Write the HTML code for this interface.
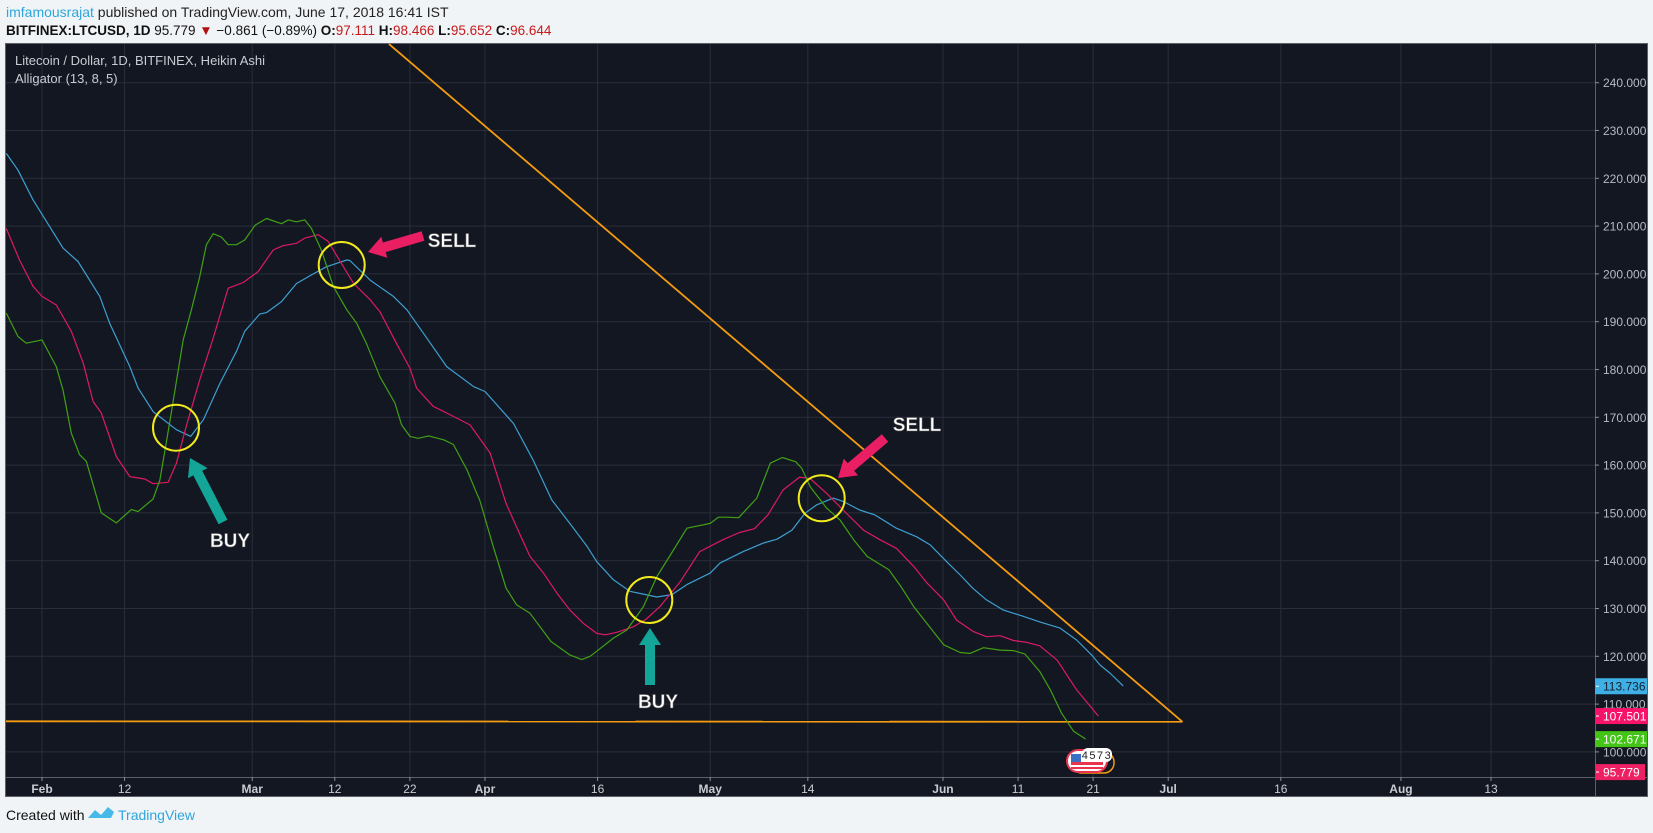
<!DOCTYPE html>
<html><head><meta charset="utf-8"><style>
html,body{margin:0;padding:0;background:#f1f4f7;}
svg{display:block;}
text{font-family:"Liberation Sans",sans-serif;}
</style></head><body>
<svg id="chart" width="1653" height="833" viewBox="0 0 1653 833" xmlns="http://www.w3.org/2000/svg">
<rect x="0" y="0" width="1653" height="833" fill="#f1f4f7"/>
<text x="6" y="17" font-size="14"><tspan fill="#2ea6dd">imfamousrajat</tspan><tspan fill="#222"> published on TradingView.com, June 17, 2018 16:41 IST</tspan></text>
<text x="6" y="35" font-size="13.5" fill="#111"><tspan font-weight="bold">BITFINEX:LTCUSD, 1D</tspan><tspan> 95.779 </tspan><tspan fill="#b01010">▼</tspan><tspan> −0.861 (−0.89%) </tspan><tspan font-weight="bold">O:</tspan><tspan fill="#c41a1a">97.111</tspan><tspan font-weight="bold"> H:</tspan><tspan fill="#c41a1a">98.466</tspan><tspan font-weight="bold"> L:</tspan><tspan fill="#c41a1a">95.652</tspan><tspan font-weight="bold"> C:</tspan><tspan fill="#c41a1a">96.644</tspan></text>
<rect x="5.5" y="43.5" width="1642" height="753" fill="#131722" stroke="#5d606b"/>
<g id="grid"></g>
<g id="trend"></g>
<g id="series"></g>
<g id="notes"></g>
<line x1="1595.5" y1="44" x2="1595.5" y2="796" stroke="#5d606b"/>
<line x1="6" y1="777.5" x2="1647" y2="777.5" stroke="#5d606b"/>
<g id="yaxis"></g>
<g id="xaxis"></g>
<text x="15" y="65" font-size="13" fill="#c9ccd2">Litecoin / Dollar, 1D, BITFINEX, Heikin Ashi</text>
<text x="15" y="83" font-size="13" fill="#c9ccd2">Alligator (13, 8, 5)</text>
<g>
<rect x="1072" y="752" width="42" height="21" rx="10" fill="none" stroke="#f39c12" stroke-width="1.5"/>
<rect x="1067" y="750" width="40" height="22" rx="11" fill="#fff" stroke="#e8344e" stroke-width="2"/>
<rect x="1071" y="754" width="10" height="8" fill="#3b6fc4"/>
<rect x="1071" y="762" width="32" height="3" fill="#e8344e"/>
<rect x="1071" y="767" width="32" height="2" fill="#e8344e"/>
<rect x="1082" y="748" width="30" height="14" rx="6" fill="#fff"/>
<text x="1097" y="759" font-size="11" fill="#222" text-anchor="middle" letter-spacing="1.5">4573</text>
</g>
<text x="6" y="820" font-size="14" fill="#111">Created with</text>
<g>
<path d="M88 818 l7 -8 l6 5 l7 -8 l6 5 l-3 6 z" fill="#47b9e8"/>
<text x="118" y="820" font-size="14" fill="#2ea6dd">TradingView</text>
</g>
</svg>
<script>
// ---- data (day index = days since Feb 1 2018) ----
const priceTicks = [100,110,120,130,140,150,160,170,180,190,200,210,220,230,240];
const dateTickDays = [0,11,28,39,49,59,74,89,102,120,130,140,150,165,181,193];
const dateTickLabels = ["Feb","12","Mar","12","22","Apr","16","May","14","Jun","11","21","Jul","16","Aug","13"];
const dateTickBold = [1,0,1,0,0,1,0,1,0,1,0,0,1,0,1,0];

const blueDays = [-4.75,-3.2,-1.2,2.8,4.8,7.7,9,11.7,12.8,14.8,17.9,19.8,21.5,23.7,25.9,27,29,29.9,31.9,33.9,35.9,37.9,40.6,41,43.7,46.8,48.6,50.8,53.9,57.5,59,62.8,65.4,67.9,70.3,72.6,73.9,76.1,78.3,81.9,83.9,85.9,89,90.3,93.4,96.1,97.9,99.9,101.6,103.2,105.4,106.7,108.9,110.9,113.8,116.5,118.3,120.5,122.3,124,125.8,128,130.6,132.9,135.6,137.8,139.8,140.9,142.3,144];
const blueVals = [225.2,221.7,215.5,205.4,202.6,195.3,189.7,180.6,176.1,171.2,167.4,166,169.5,177.1,183.8,188,191.6,191.9,194.2,198,199.8,201.5,202.9,202.8,198.7,195.3,192.5,187.6,180.6,176.4,175.4,168.7,161.1,152.7,147.8,143,139.8,136,133.6,132.4,132.9,135,137.4,139.5,141.9,143.7,144.5,146.4,149.9,151.7,153.1,152.4,150.6,149.6,146.8,145,143.3,139.8,137,134.2,131.8,129.7,128.4,127.2,125.9,123.4,120.3,118.2,116.4,113.8];

const redDays = [-4.75,-3,-1.2,0,1.9,3.9,5.5,6.8,7.9,9.9,11.7,13.7,14.8,16.8,17.9,19.2,21,22.8,24.8,26.8,28.8,30.8,32.1,33.9,35,36.8,38.1,41.5,43.7,45,47.2,49,49.9,52.1,53.9,57,59.7,61.8,63.6,65,66.8,68.6,70.3,72.1,73.9,75,76.5,78.8,80.5,82.3,85,87.6,90.7,92.9,94.9,96.7,98.7,100.9,102.3,104.5,106.7,109.4,111.6,113.8,116.1,117.9,120.1,121.8,124,125.8,127.6,129.4,131.2,132.9,135.2,137.8,140.7];
const redVals = [209.5,202.9,197.4,195.3,193.5,188,181.3,173.3,170.9,161.8,157.6,157.1,156.1,156.4,160.4,168.1,177.8,186.6,197,198.2,200.5,205,205.9,206.4,207.5,208.2,206.8,198,194.6,192.1,185.5,180.3,176.1,172.3,170.9,168.4,162.5,152,145.7,140.9,137.4,133.2,129.7,126.9,124.8,124.5,125,126.2,127.8,130.4,135.6,141.9,144.4,145.9,146.7,149.6,154.8,157.5,157.2,154.1,150.6,146.4,144.4,142.6,138.8,135.3,131.8,127.6,125.2,124.1,124.3,123.3,122.9,122.2,119.2,113,107.5];

const greenDays = [-4.75,-3.2,-2.1,0,1.9,2.8,3.9,5,5.9,7.9,9.9,11.9,12.8,14.8,15.7,17,18.8,19.9,21,21.9,22.8,23.9,24.8,25.9,27,28.4,29.9,31.9,32.8,33.9,35,35.9,37.2,38.8,40.6,41.9,43.2,45,47,47.9,49,50.1,51.5,53.5,54.8,56.6,57.9,58.3,60.1,61.8,63.2,65,67.8,70.3,71.9,73,74.4,76.1,77.9,80.1,81.9,83.7,85.9,89,90.1,91.2,92.8,95.2,97,98.6,100.4,101.2,102.3,104.5,106.3,108.1,109.9,112.8,114.4,116.1,120.1,122.3,123.6,125.4,127.6,129.4,130.9,132.9,134.3,135.8,137.4,139];
const greenVals = [191.8,186.9,185.5,186.2,180.6,175.7,166.7,162.2,160.8,150,147.9,150.7,150.3,152.9,156.9,168.8,186.2,192.5,199.4,206.1,208.4,207.7,206.1,206.1,207.1,210.2,211.6,210.5,211.3,210.9,211.3,209.5,205,197.4,192.5,189.7,185.5,178.5,173,168.4,166,165.6,166.1,165.3,164.3,159,154.1,152.7,143,134.3,130.8,129,123.1,120.3,119.3,120,121.7,123.8,125.5,130.4,136.7,141.2,146.8,147.8,149.1,149.1,149,153.1,160.4,161.6,160.7,159.3,155.5,151,148.5,144.4,140.9,138.1,134.6,130.4,122.4,120.8,120.6,121.8,121.3,121.2,120.5,116.8,113,108.1,104.3,102.7];

const lastLabels = [113.736,107.501,102.671,95.779];
const lastLabelColors = ["#3fb0e6","#f7136a","#43c417","#ee1f63"];
const trendDays = [46.2,151.9,-4.8];
const trendVals = [248.1,106.3,106.4];

// ---- axis functions ----
const X0=42, PXD=7.508;
function x(d){return X0 + d*PXD;}
function y(v){return 82.7 + (240 - v)*4.78;}
const NS="http://www.w3.org/2000/svg";
function mk(tag,attrs,parent){const e=document.createElementNS(NS,tag);for(const k in attrs)e.setAttribute(k,attrs[k]);parent.appendChild(e);return e;}

const grid=document.getElementById('grid');
priceTicks.forEach(v=>{
  const l=mk('line',{x1:6,x2:1595,y1:y(v),y2:y(v),stroke:'#2a2e3a','stroke-width':1},grid);
  
  
});
dateTickDays.forEach(d=>{
  const l=mk('line',{x1:x(d),x2:x(d),y1:44,y2:777,stroke:'#2a2e3a','stroke-width':1},grid);
  
  
});

const yax=document.getElementById('yaxis');
priceTicks.forEach(v=>{
  mk('line',{x1:1595,x2:1599,y1:y(v),y2:y(v),stroke:'#8a8d96'},yax);
  const t=mk('text',{x:1603,y:y(v)+4.5,'font-size':12,fill:'#b7bac2'},yax);
  t.textContent=v.toFixed(3);
  
  
});
const xax=document.getElementById('xaxis');
dateTickDays.forEach((d,i)=>{
  mk('line',{x1:x(d),x2:x(d),y1:777,y2:781,stroke:'#8a8d96'},xax);
  const t=mk('text',{x:x(d),y:793,'font-size':12,fill:'#c9cbd1','text-anchor':'middle','font-weight':dateTickBold[i]?'bold':'normal'},xax);
  t.textContent=dateTickLabels[i];
  
  
});

const tr=document.getElementById('trend');
const t1=mk('line',{x1:x(trendDays[0]),y1:y(trendVals[0]),x2:x(trendDays[1]),y2:y(trendVals[1]),stroke:'#f59b0f','stroke-width':1.8},tr);


const t2=mk('line',{x1:x(trendDays[2]),y1:y(trendVals[2]),x2:x(trendDays[1]),y2:y(trendVals[1]),stroke:'#f59b0f','stroke-width':1.8},tr);



const ser=document.getElementById('series');
function line(days,vals,color,name){
  const pts=days.map((d,i)=>x(d).toFixed(1)+','+y(vals[i]).toFixed(1)).join(' ');
  const p=mk('polyline',{points:pts,fill:'none',stroke:color,'stroke-width':1.2,'stroke-linejoin':'round'},ser);
  
  
}
line(blueDays,blueVals,'#3d9fd0','jaw-line');
line(redDays,redVals,'#dd1a62','teeth-line');
line(greenDays,greenVals,'#40a114','lips-line');

// last value labels
lastLabels.forEach((v,i)=>{
  const g=mk('g',{},yax);
  
  
  const yy=y(v);
  const w = i===3?50:52;
  mk('rect',{x:1595,y:yy-8,width:w,height:16,fill:lastLabelColors[i]},g);
  mk('line',{x1:1596,x2:1599,y1:yy,y2:yy,stroke:'#fff'},g);
  const t=mk('text',{x:1603,y:yy+4.5,'font-size':12,fill:i===0?'#132030':'#fff'},g);
  t.textContent=v.toFixed(3);
});

// annotations
const notes=document.getElementById('notes');
function circle(cx,cy,name){
  const c=mk('circle',{cx:cx,cy:cy,r:23,fill:'none',stroke:'#f1ea1c','stroke-width':2},notes);
  
  
}
function arrow(x1,y1,x2,y2,color,name){
  const dx=x2-x1,dy=y2-y1,L=Math.hypot(dx,dy),ux=dx/L,uy=dy/L,px=-uy,py=ux;
  const hl=17,sw=5,hw=11;
  const bx=x2-ux*hl,by=y2-uy*hl;
  const pts=[[x1+px*sw,y1+py*sw],[bx+px*sw,by+py*sw],[bx+px*hw,by+py*hw],[x2,y2],[bx-px*hw,by-py*hw],[bx-px*sw,by-py*sw],[x1-px*sw,y1-py*sw]];
  const p=mk('polygon',{points:pts.map(q=>q[0].toFixed(1)+','+q[1].toFixed(1)).join(' '),fill:color},notes);
  
  
}
function label(tx,ty,s,name){
  const t=mk('text',{x:tx,y:ty,'font-size':19,'font-weight':'bold',fill:'#fff','text-anchor':'middle',stroke:'#555','stroke-width':0.6},notes);
  t.textContent=s;
  
  
}
circle(176,427.7,'buy-circle-1');
circle(341.7,265,'sell-circle-1');
circle(649.3,600,'buy-circle-2');
circle(821.7,498.3,'sell-circle-2');
arrow(223,522,190,458,'#12a598','buy-arrow-1');
arrow(650,685,650,628,'#12a598','buy-arrow-2');
arrow(423,236,368,252,'#e91e63','sell-arrow-1');
arrow(885,438,838,478,'#e91e63','sell-arrow-2');
label(230,547,'BUY','buy-label-1');
label(658,708,'BUY','buy-label-2');
label(452,247,'SELL','sell-label-1');
label(917,431,'SELL','sell-label-2');
</script>
</body></html>
